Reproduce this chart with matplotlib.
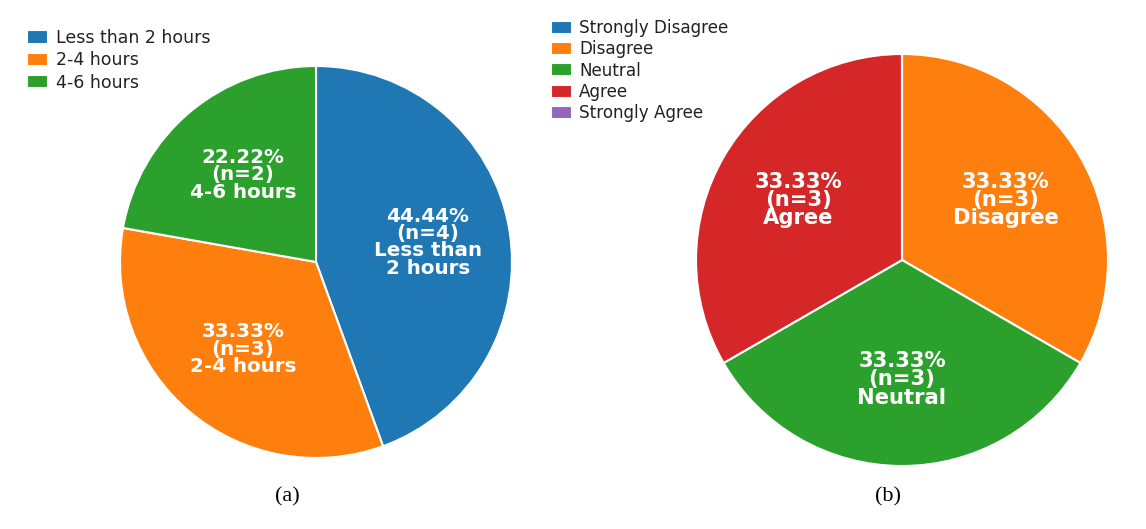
import matplotlib
matplotlib.use('Agg')
import matplotlib.pyplot as plt

plt.rcParams['font.family'] = 'DejaVu Sans'

# (a) daily hours
hours_labels = ['Less than 2 hours', '2-4 hours', '4-6 hours']
hours_counts = [4, 3, 2]
hours_text = ['Less than\n2 hours', '2-4 hours', '4-6 hours']

# (b) agreement
agree_labels = ['Strongly Disagree', 'Disagree', 'Neutral', 'Agree', 'Strongly Agree']
agree_counts = [0, 3, 3, 3, 0]

colors = ['#1f77b4', '#ff7f0e', '#2ca02c', '#d62728', '#9467bd']

W, H = 1146, 529
fig = plt.figure(figsize=(W / 100, H / 100), dpi=100)


def draw_pie(rect, counts, names, fsize):
    ax = fig.add_axes(rect)
    total = sum(counts)
    wedges, _, autotexts = ax.pie(counts, colors=colors[:len(counts)],
                                  startangle=90, counterclock=False,
                                  autopct=lambda p: '', pctdistance=0.58,
                                  wedgeprops=dict(edgecolor='white', linewidth=1.5))
    for t, c, nm in zip(autotexts, counts, names):
        if c > 0:
            t.set_text(f'{c / total * 100:.2f}%\n(n={c})\n{nm}')
        t.set_color('white')
        t.set_fontweight('bold')
        t.set_fontsize(fsize)
        t.set_linespacing(0.88)
    return ax, wedges


# left pie: centre (316, 262), radius 196 px
r1 = 196 * 1.25
ax1, w1 = draw_pie([(316 - r1) / W, (H - 262 - r1) / H, 2 * r1 / W, 2 * r1 / H],
                   hours_counts, hours_text, 14.3)
# right pie: centre (902, 260), radius 206 px
r2 = 206 * 1.25
ax2, w2 = draw_pie([(902 - r2) / W, (H - 260 - r2) / H, 2 * r2 / W, 2 * r2 / H],
                   agree_counts, agree_labels, 15.2)

fig.legend(w1, hours_labels, loc='upper left', bbox_to_anchor=(27 / W, 1 - 29 / H),
           frameon=False, fontsize=12.5, labelcolor='#222222',
           borderpad=0, borderaxespad=0,
           handlelength=1.22, handleheight=0.8, handletextpad=0.45, labelspacing=0.25)
fig.legend(w2, agree_labels, loc='upper left', bbox_to_anchor=(551 / W, 1 - 19 / H),
           frameon=False, fontsize=12.1, labelcolor='#222222',
           borderpad=0, borderaxespad=0,
           handlelength=1.22, handleheight=0.8, handletextpad=0.45, labelspacing=0.2)

fig.text(287 / W, 1 - 497 / H, '(a)', ha='center', va='center',
         family='Liberation Serif', fontsize=16)
fig.text(888 / W, 1 - 497 / H, '(b)', ha='center', va='center',
         family='Liberation Serif', fontsize=16)

fig.savefig('out.png', dpi=100)
